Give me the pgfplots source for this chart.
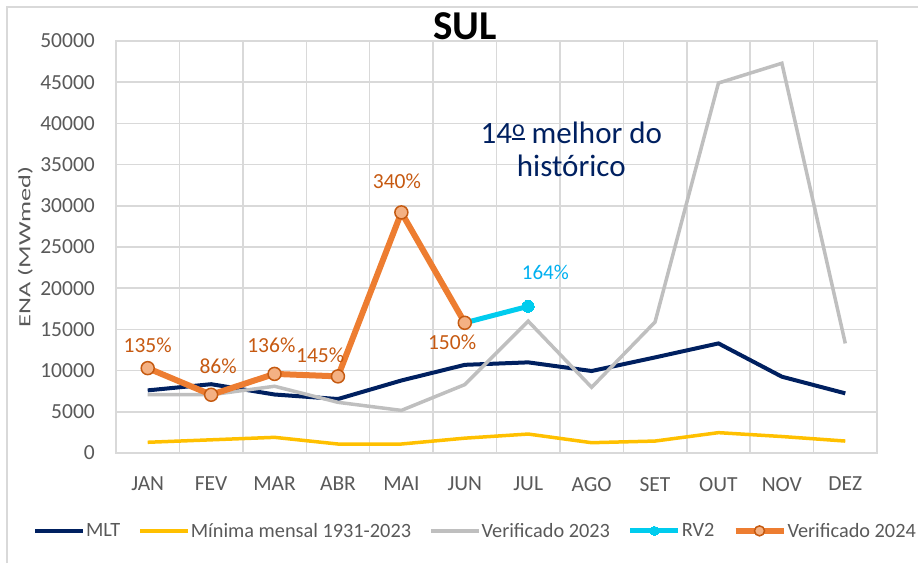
\documentclass[border=0pt]{standalone}
\usepackage{pgfplots}
\pgfplotsset{compat=1.18}
\usepackage{fontspec}
\setmainfont{Carlito}
\definecolor{mlt}{HTML}{002060}
\definecolor{minc}{HTML}{FFC000}
\definecolor{v23}{HTML}{BFBFBF}
\definecolor{rv2}{HTML}{00CCEE}
\definecolor{v24}{HTML}{ED7D31}
\definecolor{v24fill}{HTML}{F4B183}
\definecolor{v24edge}{HTML}{C55A11}
\definecolor{lbl}{HTML}{C65911}
\definecolor{lblc}{HTML}{00B0F0}
\definecolor{gridc}{HTML}{D9D9D9}
\definecolor{txt}{HTML}{595959}
\newcommand\fs[1]{\fontsize{#1}{#1}\selectfont}
\newcommand\ordm{\raisebox{7pt}{\fs{24pt}\vtop{\hbox{o}\kern1.5pt\hrule height 1.8pt}}}
\begin{document}
\begin{tikzpicture}
\useasboundingbox (0,0) rectangle (918pt,563pt);
\draw[gridc, line width=1.5pt] (7pt,0) -- (7pt,556pt) -- (918pt,556pt);
\node[font=\bfseries\fs{41pt}, text=black] at (465pt,537pt) {SUL};
\begin{axis}[
 at={(116pt,110pt)}, anchor=south west,
 width=761pt, height=412pt, scale only axis,
 xmin=-0.5, xmax=11.5, ymin=0, ymax=50000,
 xtick={0,...,11},
 xticklabels={JAN,FEV,MAR,ABR,MAI,JUN,JUL,AGO,SET,OUT,NOV,DEZ},
 minor xtick={-0.5,0.5,...,11.5},
 ytick={0,5000,...,50000},
 xminorgrids, ymajorgrids,
 grid style={gridc, line width=1.5pt},
 minor grid style={gridc, line width=1.5pt},
 axis line style={gridc, line width=1.5pt},
 major tick length=0pt, minor tick length=0pt,
 tick label style={font=\fs{21.5pt}, text=txt, inner sep=0pt},
 yticklabel style={xshift=-21pt},
 xticklabel style={yshift=-24pt},
 scaled y ticks=false,
 /pgf/number format/1000 sep={},
 /pgf/number format/assume math mode=true,
 ylabel={\scalebox{1.55}[1]{ENA (MWmed)}},
 ylabel style={at={(axis description cs:-0.119,0.5)}, anchor=center, font=\fs{17pt}, text=txt},
 legend columns=5,
 legend style={at={(0.4717,-0.189)}, anchor=center, draw=none, fill=none, font=\fs{20.3pt}, text=txt, nodes={inner xsep=1pt, inner ysep=2pt}, /tikz/every even column/.append style={column sep=17pt}},
 legend image code/.code={\draw[mark repeat=2, mark phase=2, #1] plot coordinates {(0pt,0pt) (24pt,0pt) (48pt,0pt)};},
 clip=false,
]
\addplot[mlt, line width=4pt] coordinates {(0,7600) (1,8350) (2,7100) (3,6550) (4,8800) (5,10700) (6,11000) (7,9950) (8,11600) (9,13300) (10,9260) (11,7240)};
\addlegendentry{MLT}
\addplot[minc, line width=3.5pt] coordinates {(0,1300) (1,1600) (2,1900) (3,1090) (4,1090) (5,1800) (6,2300) (7,1250) (8,1450) (9,2470) (10,2000) (11,1450)};
\addlegendentry{Mínima mensal 1931-2023}
\addplot[v23, line width=3.5pt] coordinates {(0,7070) (1,7070) (2,8100) (3,6150) (4,5170) (5,8300) (6,16000) (7,7970) (8,15900) (9,44900) (10,47300) (11,13300)};
\addlegendentry{Verificado 2023}
\addplot[rv2, line width=5pt, mark=*, mark size=6pt, mark options={fill=rv2, draw=rv2, line width=0pt}, legend image post style={mark size=4.5pt}] coordinates {(5,15800) (6,17800)};
\addlegendentry{RV2}
\addplot[v24, line width=6pt, mark=*, mark size=6.5pt, mark options={fill=v24fill, draw=v24edge, line width=1.5pt}, legend image post style={mark size=5pt}] coordinates {(0,10300) (1,7070) (2,9600) (3,9300) (4,29200) (5,15800)};
\addlegendentry{Verificado 2024}
\begin{scope}[font=\fs{21.5pt}, text=lbl]
\node at (axis cs:0,13100) {135\%};
\node at (axis cs:1.11,10500) {86\%};
\node at (axis cs:1.95,13100) {136\%};
\node at (axis cs:2.72,11900) {145\%};
\node at (axis cs:3.93,33000) {340\%};
\node at (axis cs:4.8,13400) {150\%};
\end{scope}
\node[font=\fs{21pt}, text=lblc] at (axis cs:6.27,21900) {164\%};
\node[font=\fs{31pt}, text=mlt, align=center] at (axis cs:6.68,36900) {14\ordm{} melhor do\\[2pt]histórico};
\end{axis}
\end{tikzpicture}
\end{document}
